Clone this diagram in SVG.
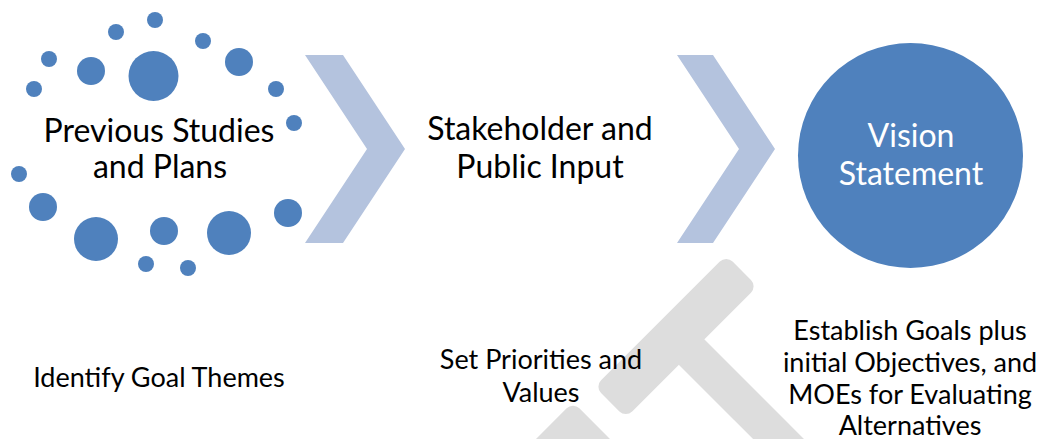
<svg xmlns="http://www.w3.org/2000/svg" width="1044" height="439" viewBox="0 0 1044 439">
<style>
.dot{fill:#4F81BD}
.chev{fill:#B4C3DE}
.wm{fill:#DDDDDD}
text{font-family:Lato,"Liberation Sans",sans-serif;font-weight:400;fill:#000;text-anchor:middle}
.big{font-size:32px}
.small{font-size:27px}
.white{fill:#FFFFFF}
</style>
<rect width="1044" height="439" fill="#FFFFFF"/>
<g id="watermark">
  <g transform="translate(676,336.5) rotate(-45)">
    <rect class="wm" x="-93" y="-22" width="186" height="44" rx="9"/>
    <rect class="wm" x="-18" y="0" width="36" height="220"/>
  </g>
  <g transform="translate(573,402) rotate(45)">
    <rect class="wm" x="0" y="0" width="120" height="120" rx="9"/>
  </g>
</g>
<g id="connectors">
  <polygon class="chev" points="305,55 343,55 405,149 343,243 305,243 367,149"/>
  <polygon class="chev" points="677,55 713,55 775,149 713,243 677,243 739,149"/>
</g>
<g id="node-previous">
  <circle class="dot" cx="155" cy="20" r="8"/>
  <circle class="dot" cx="116" cy="32" r="8"/>
  <circle class="dot" cx="203" cy="41" r="8"/>
  <circle class="dot" cx="49" cy="59" r="8"/>
  <circle class="dot" cx="91" cy="71" r="14"/>
  <circle class="dot" cx="153.5" cy="76" r="25"/>
  <circle class="dot" cx="239" cy="62" r="14"/>
  <circle class="dot" cx="34" cy="89" r="8"/>
  <circle class="dot" cx="276" cy="89" r="8"/>
  <circle class="dot" cx="294" cy="123" r="8"/>
  <circle class="dot" cx="19" cy="174" r="8"/>
  <circle class="dot" cx="43" cy="207" r="14"/>
  <circle class="dot" cx="96" cy="239" r="22"/>
  <circle class="dot" cx="164" cy="231" r="14"/>
  <circle class="dot" cx="229" cy="233" r="22"/>
  <circle class="dot" cx="288" cy="213" r="14"/>
  <circle class="dot" cx="146" cy="264" r="8"/>
  <circle class="dot" cx="188" cy="268" r="8"/>
  <text class="big" x="159" y="142">Previous Studies</text>
  <text class="big" x="160" y="178">and Plans</text>
</g>
<g id="node-stakeholder">
  <text class="big" x="540" y="140">Stakeholder and</text>
  <text class="big" x="540" y="178">Public Input</text>
</g>
<g id="node-vision">
  <circle class="dot" cx="910.5" cy="155.5" r="112.5"/>
  <text class="big white" x="911" y="147">Vision</text>
  <text class="big white" x="911" y="185">Statement</text>
</g>
<g id="label-identify">
  <text class="small" x="159" y="387">Identify Goal Themes</text>
</g>
<g id="label-priorities">
  <text class="small" x="541" y="369">Set Priorities and</text>
  <text class="small" x="541" y="402">Values</text>
</g>
<g id="label-establish">
  <text class="small" x="910" y="340">Establish Goals plus</text>
  <text class="small" x="910" y="372">initial Objectives, and</text>
  <text class="small" x="910" y="404">MOEs for Evaluating</text>
  <text class="small" x="910" y="435">Alternatives</text>
</g>
</svg>
